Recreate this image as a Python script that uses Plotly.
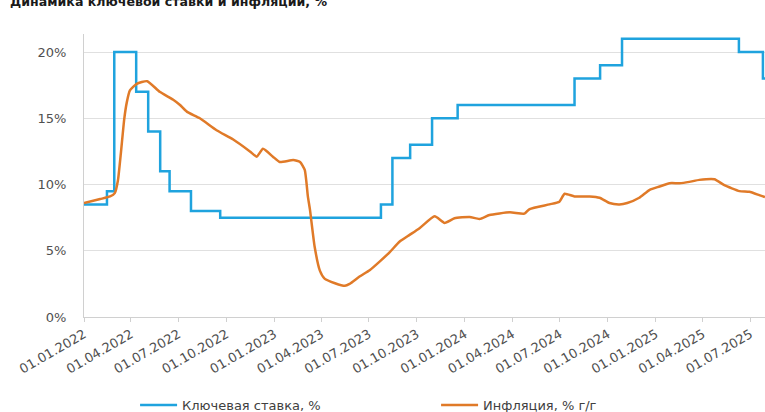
import plotly.graph_objects as go

# Key rate (step series)
rate_dates = ["2022-01-01", "2022-02-14", "2022-02-28", "2022-04-11", "2022-05-04",
              "2022-05-27", "2022-06-14", "2022-07-25", "2022-09-19", "2023-07-24",
              "2023-08-15", "2023-09-18", "2023-10-30", "2023-12-18", "2024-07-29",
              "2024-09-16", "2024-10-28", "2025-06-09", "2025-07-25", "2025-07-29"]
rate_values = [8.5, 9.5, 20, 17, 14, 11, 9.5, 8, 7.5, 8.5,
               12, 13, 15, 16, 18, 19, 21, 20, 18, 18]

# Inflation, % y/y
infl_dates = ["2022-01-01", "2022-02-01", "2022-02-20", "2022-03-01", "2022-03-07",
              "2022-03-13", "2022-03-19", "2022-03-24", "2022-03-30", "2022-04-12",
              "2022-05-02", "2022-05-26", "2022-06-21", "2022-07-04", "2022-07-17",
              "2022-08-11", "2022-09-12", "2022-10-14", "2022-11-15", "2022-11-28",
              "2022-12-10", "2022-12-29", "2023-01-11", "2023-02-06", "2023-02-19",
              "2023-02-28", "2023-03-06", "2023-03-10", "2023-03-19", "2023-03-29",
              "2023-04-07", "2023-04-27", "2023-05-16", "2023-05-25", "2023-06-13",
              "2023-07-03", "2023-07-22", "2023-08-10", "2023-08-29", "2023-09-17",
              "2023-10-06", "2023-11-04", "2023-11-23", "2023-12-12", "2024-01-10",
              "2024-01-29", "2024-02-17", "2024-03-27", "2024-04-24", "2024-05-04",
              "2024-06-11", "2024-06-30", "2024-07-10", "2024-07-29", "2024-08-27",
              "2024-09-15", "2024-10-04", "2024-10-23", "2024-11-07", "2024-11-30",
              "2024-12-20", "2025-01-08", "2025-01-27", "2025-02-15", "2025-03-06",
              "2025-03-25", "2025-04-23", "2025-05-12", "2025-06-10", "2025-06-29",
              "2025-07-18", "2025-07-29"]
infl_values = [8.6, 8.9, 9.1, 9.35, 10.3,
               12.5, 14.9, 16.2, 17.1, 17.6,
               17.8, 17.0, 16.4, 16.0, 15.5,
               15.0, 14.1, 13.4, 12.5, 12.1,
               12.7, 12.1, 11.7, 11.85, 11.7,
               11.1, 9.1, 8.1, 5.3, 3.5,
               2.9, 2.55, 2.35, 2.5, 3.05,
               3.55, 4.2, 4.9, 5.7, 6.2,
               6.7, 7.6, 7.1, 7.45, 7.55,
               7.4, 7.7, 7.9, 7.8, 8.15,
               8.5, 8.7, 9.3, 9.1, 9.1,
               9.0, 8.6, 8.5, 8.6, 9.0,
               9.6, 9.85, 10.1, 10.1, 10.2,
               10.35, 10.4, 9.95, 9.5, 9.45,
               9.2, 9.05]

y_ticks = [0, 5, 10, 15, 20]
y_tick_labels = ["0%", "5%", "10%", "15%", "20%"]

fig = go.Figure()
fig.add_trace(go.Scatter(x=rate_dates, y=rate_values, mode="lines",
                         line=dict(color="#1FA3DE", width=2.5, shape="hv"),
                         name="Ключевая ставка, %"))
fig.add_trace(go.Scatter(x=infl_dates, y=infl_values, mode="lines",
                         line=dict(color="#E07A28", width=2.5, shape="spline", smoothing=0.5),
                         name="Инфляция, % г/г"))

font_family = "DejaVu Sans, Verdana, sans-serif"
fig.update_layout(
    width=765, height=412,
    margin=dict(l=84, r=0, t=34, b=95, autoexpand=False),
    paper_bgcolor="white", plot_bgcolor="white",
    font=dict(family=font_family, size=13, color="#505050"),
    showlegend=True,
    legend=dict(orientation="h", x=0.075, y=-0.311, xanchor="left", yanchor="middle",
                itemwidth=37, entrywidth=249, entrywidthmode="pixels",
                font=dict(size=13, color="#404040"), bgcolor="rgba(0,0,0,0)"),
    xaxis=dict(type="date", range=["2022-01-01", "2025-07-29"],
               tick0="2022-01-01", dtick="M3", tickformat="%d.%m.%Y",
               tickangle=-30, ticks="outside", ticklen=4, tickcolor="#d0d0d0",
               showgrid=False, showline=True, linecolor="#d0d0d0", linewidth=1,
               zeroline=False, automargin=False,
               tickfont=dict(size=13, color="#505050")),
    yaxis=dict(range=[0, 21.36], tickvals=y_ticks, ticktext=y_tick_labels,
               showgrid=True, gridcolor="#e0e0e0", gridwidth=1,
               showline=True, linecolor="#d0d0d0", linewidth=1,
               zeroline=False, ticks="", ticklabelstandoff=14, automargin=False,
               tickfont=dict(size=13, color="#505050")),
    annotations=[dict(text="<b>Динамика ключевой ставки и инфляции, %</b>",
                      xref="paper", yref="paper", x=-76/681, y=1 + 33/283,
                      xanchor="left", yanchor="middle", showarrow=False,
                      font=dict(size=12.6, color="#1a1a1a", family=font_family))],
)

fig.write_html("out.html", config={"displayModeBar": False},
               post_script="document.body.style.margin='0';document.body.style.overflow='hidden';")
